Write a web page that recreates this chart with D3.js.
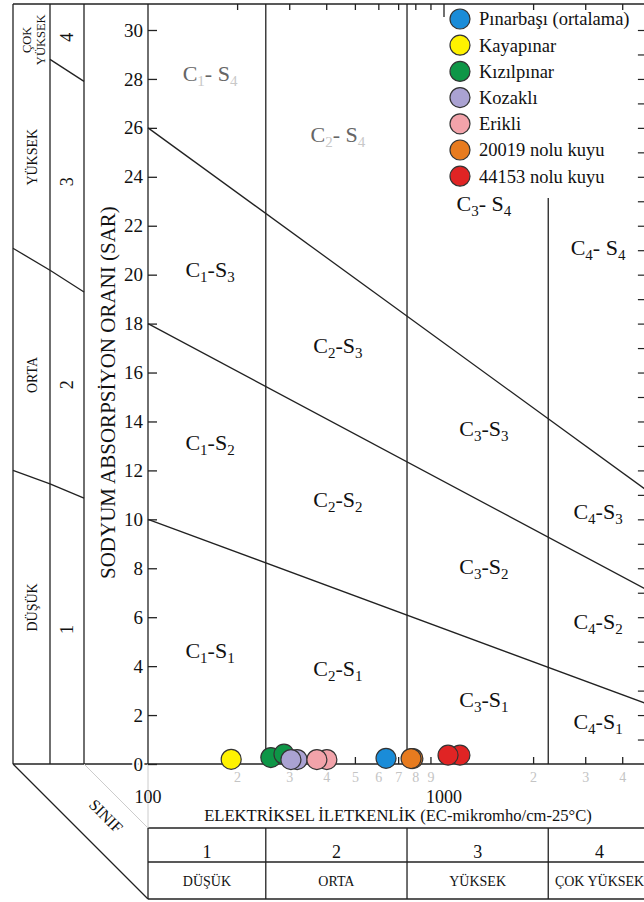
<!DOCTYPE html>
<html>
<head>
<meta charset="utf-8">
<script src="https://cdn.jsdelivr.net/npm/d3@7"></script>
<style>
body { margin: 0; background: #fff; }
svg { display: block; font-family: "Liberation Serif", "Times New Roman", serif; }
</style>
</head>
<body>
<svg></svg>
<script>
const width = 644;
const height = 902;

// samples
const seriesNames = ["Pınarbaşı (ortalama)", "Kayapınar", "Kızılpınar", "Kozaklı", "Erikli", "20019 nolu kuyu", "44153 nolu kuyu"];
const seriesColors = ["#1a8cd8", "#fff200", "#0e9647", "#aaa2d2", "#f2a3aa", "#e77b1f", "#e02424"];
const seriesEC = [[637], [191], [260, 288], [319, 304], [402, 372], [785, 774], [1132, 1032]];
const seriesSAR = [[0.11], [0.07], [0.14, 0.28], [0.06, 0.06], [0.06, 0.06], [0.1, 0.1], [0.24, 0.24]];

// axes
const ecDomain = [100, 5000];
const sarTicks = d3.range(0, 31, 2);
const sarMinor = d3.range(1, 31);
const ecMinor = [200, 300, 400, 500, 600, 700, 800, 900, 2000, 3000, 4000];
const ecMajor = [100, 1000];

// salinity classes (EC limits) and sodium class lines (SAR at EC 100 and EC 5000)
const cBreaks = [250, 750, 2250];
const cClassEC = [[100, 250], [250, 750], [750, 2250], [2250, 5000]];
const cClassNames = ["DÜŞÜK", "ORTA", "YÜKSEK", "ÇOK YÜKSEK"];
const sLines = [[10, 2.4], [18, 7.03], [26, 11.06]];

// side panel (sodium classes): SAR of the boundary at each of the three column edges
const sPanelLines = [[12.0, 11.45, 10.87], [21.08, 20.18, 19.29], [null, 28.8, 27.9]];
const sClassNames = ["DÜŞÜK", "ORTA", "YÜKSEK"];
const sClassNameSAR = [6.4, 15.9, 24.8];
const sClassNumSAR = [5.5, 15.5, 23.8, 29.7];

// zone labels: [C class, S class, EC, SAR, faded]
const zones = [
  [1, 4, 162, 28.2, true], [1, 3, 162, 20.2, false], [1, 2, 162, 13.1, false], [1, 1, 162, 4.6, false],
  [2, 4, 438, 25.7, true], [2, 3, 438, 17.1, false], [2, 2, 438, 10.8, false], [2, 1, 438, 3.9, false],
  [3, 4, 1365, 22.9, false], [3, 3, 1365, 13.7, false], [3, 2, 1365, 8.05, false], [3, 1, 1365, 2.6, false],
  [4, 4, 3314, 21.1, false], [4, 3, 3314, 10.3, false], [4, 2, 3314, 5.8, false], [4, 1, 3314, 1.7, false]
];

const x = d3.scaleLog().domain(ecDomain).range([148, 148 + 296 * Math.log10(50)]);
const y = d3.scaleLinear().domain([0, 30]).range([764, 30]);

const topY = 4;
const panelX = [13, 50, 84];
const tableTop = 828, tableMid = 862, tableBot = 899;
const ink = "#222";

const svg = d3.select("svg")
    .attr("width", width)
    .attr("height", height);

const lineGen = d3.line().x(d => x(d[0])).y(d => y(d[1]));

// frame
const frame = svg.append("g")
    .attr("stroke", ink)
    .attr("stroke-width", 1.3)
    .attr("fill", "none");

frame.append("line").attr("x1", panelX[0]).attr("x2", x(5000)).attr("y1", topY).attr("y2", topY);
frame.append("line").attr("x1", panelX[0]).attr("x2", x(5000)).attr("y1", y(0)).attr("y2", y(0));
frame.append("line").attr("x1", x(100)).attr("x2", x(100)).attr("y1", topY).attr("y2", y(0));
panelX.forEach(px => {
  frame.append("line").attr("x1", px).attr("x2", px).attr("y1", topY).attr("y2", y(0));
});
cBreaks.forEach((b, i) => {
  frame.append("line")
      .attr("x1", x(b)).attr("x2", x(b))
      .attr("y1", i === 2 ? 198 : topY).attr("y2", y(0));
});
sLines.forEach(s => {
  frame.append("path").attr("d", lineGen([[100, s[0]], [5000, s[1]]]));
});
sPanelLines.forEach(s => {
  for (let i = 0; i < 2; i++) {
    if (s[i] == null) continue;
    frame.append("line")
        .attr("x1", panelX[i]).attr("y1", y(s[i]))
        .attr("x2", panelX[i + 1]).attr("y2", y(s[i + 1]));
  }
});

// lower-left corner and class table
frame.append("line").attr("x1", panelX[0]).attr("y1", y(0)).attr("x2", x(100)).attr("y2", tableBot);
svg.append("line")
    .attr("x1", panelX[2]).attr("y1", y(0)).attr("x2", x(100)).attr("y2", tableTop)
    .attr("stroke", "#ccc").attr("stroke-width", 1);
svg.append("line")
    .attr("x1", x(100)).attr("x2", x(100)).attr("y1", y(0)).attr("y2", tableTop)
    .attr("stroke", "#ccc").attr("stroke-width", 1);
[tableTop, tableMid, tableBot].forEach(ty => {
  frame.append("line").attr("x1", x(100)).attr("x2", x(5000)).attr("y1", ty).attr("y2", ty);
});
[100].concat(cBreaks).forEach(b => {
  frame.append("line").attr("x1", x(b)).attr("x2", x(b)).attr("y1", tableTop).attr("y2", tableBot);
});

const table = svg.append("g").attr("text-anchor", "middle").attr("fill", "#111");
cClassEC.forEach((c, i) => {
  const cx = (x(c[0]) + x(c[1])) / 2;
  table.append("text").attr("x", cx).attr("y", 858).attr("font-size", 18).text(i + 1);
  table.append("text").attr("x", cx).attr("y", 886).attr("font-size", 14).text(cClassNames[i]);
});

svg.append("text")
    .attr("transform", "translate(106,816) rotate(45)")
    .attr("text-anchor", "middle")
    .attr("dy", "0.35em")
    .attr("font-size", 16)
    .attr("fill", "#111")
    .text("SINIF");

// side panel labels
const side = svg.append("g").attr("text-anchor", "middle").attr("fill", "#111");
sClassNames.forEach((n, i) => {
  side.append("text")
      .attr("transform", `translate(${(panelX[0] + panelX[1]) / 2 + 1},${y(sClassNameSAR[i])}) rotate(-90)`)
      .attr("dy", "0.35em")
      .attr("font-size", 14)
      .text(n);
});
side.append("text")
    .attr("transform", `translate(27,${y(29.6)}) rotate(-90)`)
    .attr("dy", "0.35em").attr("font-size", 12.5).text("ÇOK");
side.append("text")
    .attr("transform", `translate(41,${y(29.6)}) rotate(-90)`)
    .attr("dy", "0.35em").attr("font-size", 12.5).text("YÜKSEK");
sClassNumSAR.forEach((s, i) => {
  side.append("text")
      .attr("transform", `translate(${(panelX[1] + panelX[2]) / 2},${y(s)}) rotate(-90)`)
      .attr("dy", "0.35em")
      .attr("font-size", 18)
      .text(i + 1);
});

// y axis
svg.append("g")
    .attr("transform", `translate(${x(100)},0)`)
    .call(d3.axisLeft(y).tickValues(sarTicks).tickSize(-9).tickPadding(5))
    .call(g => g.select(".domain").remove())
    .call(g => g.selectAll("line").attr("stroke", ink).attr("stroke-width", 1.3))
    .call(g => g.selectAll("text")
        .attr("font-family", "Liberation Serif, serif")
        .attr("font-size", 19)
        .attr("fill", "#111")
        .attr("stroke", "#fff").attr("stroke-width", 4).attr("paint-order", "stroke"));

svg.append("text")
    .attr("transform", `translate(108,${y(15.18)}) rotate(-90)`)
    .attr("text-anchor", "middle")
    .attr("dy", "0.35em")
    .attr("font-size", 21)
    .attr("fill", "#111")
    .text("SODYUM ABSORPSİYON ORANI (SAR)");

// right ticks
svg.append("g")
    .attr("transform", `translate(${x(5000)},0)`)
    .call(d3.axisRight(y).tickValues(sarMinor).tickSize(-13).tickFormat(""))
    .call(g => g.select(".domain").remove())
    .call(g => g.selectAll("line").attr("stroke", ink).attr("stroke-width", 1.2));

// x axis (bottom)
svg.append("g")
    .attr("transform", `translate(0,${y(0)})`)
    .call(d3.axisBottom(x).tickValues(ecMinor).tickSize(-7).tickPadding(8)
        .tickFormat(d => String(d).charAt(0)))
    .call(g => g.select(".domain").remove())
    .call(g => g.selectAll("line").attr("stroke", ink).attr("stroke-width", 1.3))
    .call(g => g.selectAll("text")
        .attr("font-family", "Liberation Serif, serif")
        .attr("font-size", 14)
        .attr("fill", "#c4c4c4"));

svg.append("g")
    .selectAll("text")
    .data(ecMajor)
    .join("text")
    .attr("x", d => x(d))
    .attr("y", 803)
    .attr("text-anchor", "middle")
    .attr("font-size", 18)
    .attr("fill", "#111")
    .text(d => d);

svg.append("text")
    .attr("x", 398)
    .attr("y", 821)
    .attr("text-anchor", "middle")
    .attr("font-size", 16.6)
    .attr("fill", "#111")
    .text("ELEKTRİKSEL İLETKENLİK (EC-mikromho/cm-25°C)");

// x axis (top)
svg.append("g")
    .attr("transform", `translate(0,${topY})`)
    .call(d3.axisTop(x).tickValues(ecMinor).tickSize(-6).tickFormat(""))
    .call(g => g.select(".domain").remove())
    .call(g => g.selectAll("line").attr("stroke", ink).attr("stroke-width", 1.3));
svg.append("line")
    .attr("x1", x(1000)).attr("x2", x(1000))
    .attr("y1", topY).attr("y2", topY + 13)
    .attr("stroke", ink).attr("stroke-width", 1.3);

// zone labels
const zoneG = svg.append("g").attr("text-anchor", "middle").attr("font-size", 22);
zones.forEach(z => {
  const t = zoneG.append("text")
      .attr("x", x(z[2]))
      .attr("y", y(z[3]) + 7)
      .attr("fill", z[4] ? "#666" : "#111");
  const subFill = z[4] ? "#c8c8c8" : null;
  t.append("tspan").text("C");
  t.append("tspan").attr("dy", 5).attr("font-size", 15).attr("fill", subFill).text(z[0]);
  t.append("tspan").attr("dy", -5).text(z[1] === 4 ? "- S" : "-S");
  t.append("tspan").attr("dy", 5).attr("font-size", 15).attr("fill", subFill).text(z[1]);
});

// sample points
const points = [];
seriesNames.forEach((n, i) => {
  seriesEC[i].forEach((ec, j) => points.push({ name: n, ec: ec, sar: seriesSAR[i][j], color: seriesColors[i] }));
});
svg.append("g")
    .selectAll("circle")
    .data(points)
    .join("circle")
    .attr("cx", d => x(d.ec))
    .attr("cy", d => y(d.sar) - 3)
    .attr("r", 10)
    .attr("fill", d => d.color)
    .attr("stroke", "#333")
    .attr("stroke-width", 1.2);

// legend
const legend = svg.append("g")
    .selectAll("g")
    .data(seriesNames)
    .join("g")
    .attr("transform", (d, i) => `translate(460,${19 + i * 26.2})`);
legend.append("circle")
    .attr("r", 10)
    .attr("fill", (d, i) => seriesColors[i])
    .attr("stroke", "#333")
    .attr("stroke-width", 1.2);
legend.append("text")
    .attr("x", 19)
    .attr("dy", "0.35em")
    .attr("font-size", 18.5)
    .attr("fill", "#111")
    .text(d => d);
</script>
</body>
</html>
